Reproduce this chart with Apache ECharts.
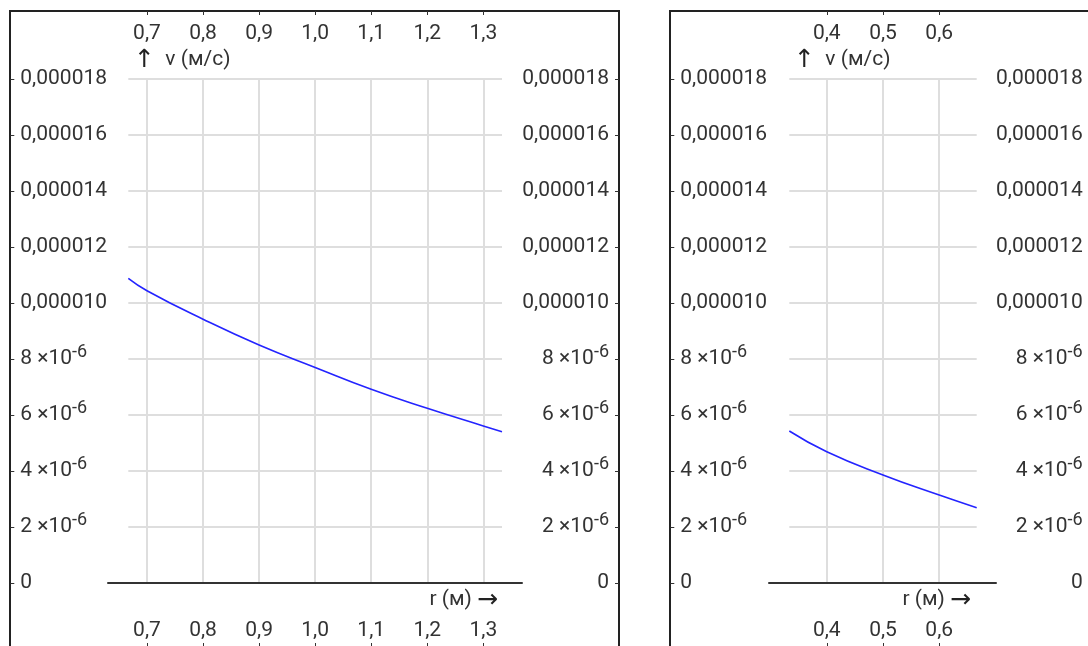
<!DOCTYPE html>
<html><head><meta charset="utf-8">
<script src="https://cdn.jsdelivr.net/npm/echarts@6/dist/echarts.min.js"></script>
<style>html,body{margin:0;padding:0;background:#fff}#c{width:1088px;height:646px}</style>
</head><body><div id="c"></div>
<script>
// ---- data ----
const leftR = [2/3, 0.7, 0.8, 0.9, 1.0, 1.1, 1.2, 1.3, 4/3];
const leftV = [10.88e-6, 10.44e-6, 9.42e-6, 8.50e-6, 7.70e-6, 6.92e-6, 6.24e-6, 5.61e-6, 5.40e-6];
const rightR = [1/3, 0.4, 0.5, 0.6, 2/3];
const rightV = [5.43e-6, 4.69e-6, 3.86e-6, 3.14e-6, 2.69e-6];
const leftTicks = [0.7, 0.8, 0.9, 1.0, 1.1, 1.2, 1.3];
const rightTicks = [0.4, 0.5, 0.6];
const leftRange = [2/3, 4/3];
const rightRange = [1/3, 2/3];
const yRange = [0, 18e-6];
const yStep = 2e-6;
const yNameArrow = '↑', yNameText = 'v (м/с)';
const xNameText = 'r (м)', xNameArrow = '→';

// ---- styles ----
const FONT = 'Roboto';
const FS = 21;
const TXT = '#333';
const GRID = '#dedede';
const LINE = '#2424ff';

const xFmt = v => v.toFixed(1).replace('.', ',');
const yFmt = v => {
  if (Math.abs(v) < 1e-12) return '0';
  if (v > 9.5e-6) return v.toFixed(6).replace('.', ',');
  return '{m|' + Math.round(v * 1e6) + ' ×10}{s|-6}';
};
const rich = {
  m: {fontFamily: FONT, fontSize: FS, color: TXT, lineHeight: 32},
  s: {fontFamily: FONT, fontSize: 18, color: TXT, lineHeight: 18, verticalAlign: 'top'}
};

function xAxes(grid, range, ticks) {
  const base = {
    type: 'value', gridIndex: grid, min: range[0], max: range[1], splitNumber: 7,
    axisLine: {show: false, onZero: false}
  };
  return [
    Object.assign({}, base, {
      position: 'bottom', offset: 65,
      axisTick: {show: true, inside: true, length: 5, customValues: ticks, lineStyle: {color: '#333'}},
      axisLabel: {inside: true, margin: 7, customValues: ticks, formatter: xFmt, fontFamily: FONT, fontSize: FS, color: TXT},
      splitLine: {show: true, lineStyle: {color: GRID, width: 2}}
    }),
    Object.assign({}, base, {
      position: 'top', offset: 68,
      axisTick: {show: true, inside: true, length: 4, customValues: ticks, lineStyle: {color: '#333'}},
      axisLabel: {inside: true, margin: 12, customValues: ticks, formatter: xFmt, fontFamily: FONT, fontSize: FS, color: TXT},
      splitLine: {show: false}
    })
  ];
}
function yAxes(grid, offL, offR) {
  const base = {
    type: 'value', gridIndex: grid, min: yRange[0], max: yRange[1], interval: yStep,
    axisLine: {show: false}
  };
  return [
    Object.assign({}, base, {
      position: 'left', offset: offL,
      axisTick: {show: true, inside: true, length: 4, lineStyle: {color: '#333'}},
      axisLabel: {inside: true, margin: 10, align: 'left', formatter: yFmt, rich: rich, fontFamily: FONT, fontSize: FS, color: TXT},
      splitLine: {show: true, lineStyle: {color: GRID, width: 2}}
    }),
    Object.assign({}, base, {
      position: 'right', offset: offR,
      axisTick: {show: true, inside: true, length: 4, lineStyle: {color: '#333'}},
      axisLabel: {inside: true, margin: 10, align: 'right', formatter: yFmt, rich: rich, fontFamily: FONT, fontSize: FS, color: TXT},
      splitLine: {show: false}
    })
  ];
}
function baseLineAxes(grid) {
  return {
    x: {type: 'value', gridIndex: grid, min: 0, max: 1, position: 'bottom',
        axisLine: {show: true, onZero: false, lineStyle: {color: '#333', width: 2}},
        axisTick: {show: false}, axisLabel: {show: false}, splitLine: {show: false}},
    y: {type: 'value', gridIndex: grid, min: 0, max: 1, show: false}
  };
}
const bl1 = baseLineAxes(1), bl3 = baseLineAxes(3);
const xa = [].concat(xAxes(0, leftRange, leftTicks), [bl1.x], xAxes(2, rightRange, rightTicks), [bl3.x]);
const ya = [].concat(yAxes(0, 118, 117), [bl1.y], yAxes(2, 119, 116), [bl3.y]);

const titleStyle = {
  fontFamily: FONT, fontSize: FS, color: TXT, fontWeight: 'normal', lineHeight: 26,
  rich: {
    t: {fontFamily: FONT, fontSize: FS, color: TXT, lineHeight: 26},
    a: {fontFamily: 'DejaVu Sans', fontSize: 25, color: '#222', lineHeight: 26}
  }
};
const yTitle = '{a|' + yNameArrow + '}{t|  ' + yNameText + '}';
const xTitle = '{t|' + xNameText + ' }{a|' + xNameArrow + '}';
const option = {
  animation: false,
  backgroundColor: '#fff',
  title: [
    {text: yTitle, left: 134, top: 47, padding: 0, textStyle: titleStyle},
    {text: xTitle, right: 590, top: 587, padding: 0, textStyle: titleStyle},
    {text: yTitle, left: 794, top: 47, padding: 0, textStyle: titleStyle},
    {text: xTitle, right: 117, top: 587, padding: 0, textStyle: titleStyle}
  ],
  grid: [
    {left: 128.3, right: 586, top: 79, bottom: 63},
    {left: 108, right: 566, top: 79, bottom: 63},
    {left: 789.3, right: 111.3, top: 79, bottom: 63},
    {left: 769, right: 92, top: 79, bottom: 63}
  ],
  xAxis: xa,
  yAxis: ya,
  graphic: [
    {type: 'rect', shape: {x: 10, y: 11, width: 609, height: 700}, style: {fill: null, stroke: '#222', lineWidth: 2}, silent: true},
    {type: 'rect', shape: {x: 670, y: 11, width: 421, height: 700}, style: {fill: null, stroke: '#222', lineWidth: 2}, silent: true}
  ],
  series: [
    {type: 'line', xAxisIndex: 0, yAxisIndex: 0, showSymbol: false, smooth: true,
     lineStyle: {color: LINE, width: 1.6}, data: leftR.map((r, i) => [r, leftV[i]])},
    {type: 'line', xAxisIndex: 3, yAxisIndex: 3, showSymbol: false, smooth: true,
     lineStyle: {color: LINE, width: 1.6}, data: rightR.map((r, i) => [r, rightV[i]])}
  ]
};
echarts.init(document.getElementById('c'), null, {renderer: 'canvas'}).setOption(option);
</script>
</body></html>
